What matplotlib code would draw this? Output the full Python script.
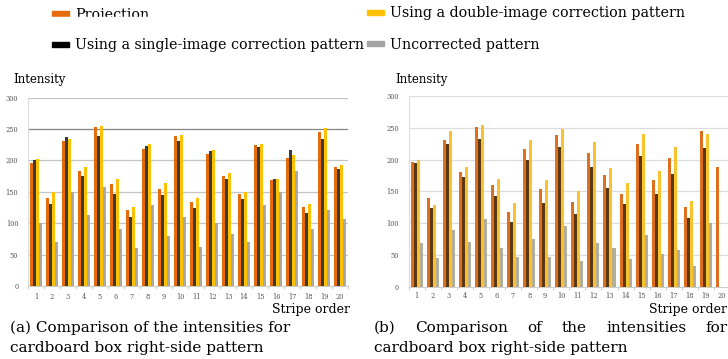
import numpy as np
import matplotlib.pyplot as plt
from matplotlib.patches import Rectangle

# stripe indices
stripes = np.arange(1, 21)

# (a) intensities per stripe
a_projection = [196, 140, 231, 183, 253, 162, 121, 218, 154, 239,
                134, 211, 175, 146, 225, 169, 204, 126, 245, 189]
a_single = [201, 130, 237, 175, 239, 146, 110, 223, 145, 231,
            125, 215, 170, 139, 221, 170, 216, 116, 234, 186]
a_double = [203, 149, 234, 189, 255, 170, 126, 226, 164, 241,
            140, 217, 180, 150, 226, 170, 209, 131, 251, 192]
a_uncorrected = [100, 70, 150, 113, 158, 91, 61, 129, 79, 110,
                 62, 100, 83, 70, 129, 149, 183, 91, 121, 107]

# (b) intensities per stripe
b_projection = [196, 140, 231, 181, 252, 160, 118, 217, 154, 238,
                133, 210, 175, 146, 225, 168, 203, 126, 245, 189]
b_single = [195, 124, 225, 173, 232, 143, 101, 199, 131, 219,
            114, 189, 156, 130, 206, 146, 177, 108, 218, np.nan]
b_double = [199, 129, 245, 189, 255, 170, 131, 231, 168, 248,
            150, 227, 187, 163, 240, 182, 220, 135, 241, np.nan]
b_uncorrected = [68, 45, 89, 71, 107, 61, 46, 75, 46, 96,
                 41, 68, 61, 43, 81, 52, 57, 32, 100, np.nan]

series_names = ["Projection", "Using a double-image correction pattern",
                "Using a single-image correction pattern", "Uncorrected pattern"]

plt.rcParams["font.family"] = "DejaVu Serif"

fig = plt.figure(figsize=(7.28, 3.59), dpi=100)
W, H = 728, 359


def px_axes(x0, y0, x1, y1):
    return fig.add_axes([x0 / W, 1 - y1 / H, (x1 - x0) / W, (y1 - y0) / H])


def draw_panel(ax, series, colors, grid_colors, xpad):
    w = 0.1875
    offsets = np.array([-1.5, -0.5, 0.5, 1.5]) * w
    for vals, c, off in zip(series, colors, offsets):
        ax.bar(stripes + off, vals, width=w, color=c, linewidth=0, zorder=3)
    ax.set_xlim(0.5, 20.5)
    ax.set_ylim(0, 300)
    ax.set_yticks(range(0, 301, 50))
    for v, gc in zip(range(50, 301, 50), grid_colors):
        ax.axhline(v, color=gc, linewidth=0.9, zorder=1)
    ax.set_xticks(stripes)
    ax.set_xticks(np.arange(0.5, 21, 1), minor=True)
    ax.tick_params(axis="x", which="major", length=0, pad=xpad,
                   labelsize=4.8, labelcolor="#555555")
    ax.tick_params(axis="x", which="minor", length=2.5, color="#c8c8c8")
    ax.tick_params(axis="y", length=0, pad=7, labelsize=4.8, labelcolor="#555555")
    for s in ["top", "right"]:
        ax.spines[s].set_visible(False)
    ax.spines["left"].set_color("#dddddd")
    ax.spines["bottom"].set_color("#cccccc")
    ax.set_facecolor("none")


ax1 = px_axes(28, 97.7, 348, 286)
draw_panel(ax1, [a_projection, a_single, a_double, a_uncorrected],
           ["#e46c0a", "#3b3b3b", "#ffc000", "#a8a8a8"],
           ["#c4c4c4", "#c4c4c4", "#c4c4c4", "#c4c4c4", "#858585", "#c4c4c4"], 5)

ax2 = px_axes(408.6, 96, 730, 286.7)
draw_panel(ax2, [b_projection, b_single, b_double, b_uncorrected],
           ["#dd6f1f", "#5a3812", "#f6c22e", "#b5ad98"],
           ["#dcdcdc"] * 6, 3.5)

# axis titles
fig.text(13 / W, 1 - 80 / H, "Intensity", fontsize=8.5, va="center")
fig.text(395 / W, 1 - 79 / H, "Intensity", fontsize=8.5, va="center")
fig.text(350 / W, 1 - 310 / H, "Stripe order", fontsize=9, va="center", ha="right")
fig.text(727 / W, 1 - 309.5 / H, "Stripe order", fontsize=9, va="center", ha="right")

# legend entries
legend_items = [
    (52, 13.5, "#e46c0a", series_names[0]),
    (367, 12.5, "#ffc000", series_names[1]),
    (52, 44.5, "#000000", series_names[2]),
    (367, 43.5, "#a5a5a5", series_names[3]),
]
for x, y, c, label in legend_items:
    fig.patches.append(Rectangle((x / W, 1 - (y + 2.5) / H), 17 / W, 5 / H,
                                 transform=fig.transFigure, color=c))
    fig.text((x + 23) / W, 1 - (y + 1) / H, label, fontsize=10.3, va="center")

# the top row of the legend is cut off just below the first entry
fig.patches.append(Rectangle((0, 1 - 32 / H), 364 / W, 14.5 / H,
                             transform=fig.transFigure, color="white", zorder=10))

# captions
cap_size = 11
fig.text(10 / W, 1 - 328 / H, "(a) Comparison of the intensities for", fontsize=cap_size, va="center")
fig.text(10 / W, 1 - 348 / H, "cardboard box right-side pattern", fontsize=cap_size, va="center")

# (b) first line is justified between x=374 and x=728
words = ["(b)", "Comparison", "of", "the", "intensities", "for"]
renderer = fig.canvas.get_renderer()
word_texts = [fig.text(0, 1 - 328 / H, wd, fontsize=cap_size, va="center") for wd in words]
widths = [t.get_window_extent(renderer).width for t in word_texts]
gap = (728 - 374 - sum(widths)) / (len(words) - 1)
cursor = 374
for t, wdt in zip(word_texts, widths):
    t.set_x(cursor / W)
    cursor += wdt + gap
fig.text(374 / W, 1 - 348 / H, "cardboard box right-side pattern", fontsize=cap_size, va="center")

fig.savefig("out.png", dpi=100)
